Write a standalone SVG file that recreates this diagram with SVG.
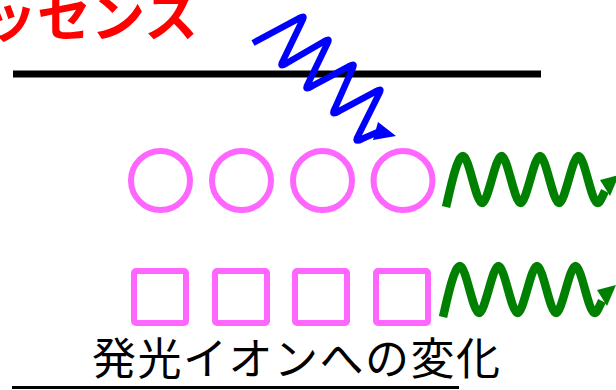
<svg xmlns="http://www.w3.org/2000/svg" width="616" height="390" viewBox="0 0 616 390">
  <defs>
    <style>
      .ion { fill: none; stroke: #FF66FF; stroke-width: 6; stroke-linejoin: round; }
      .bar { stroke: #000000; stroke-linecap: butt; }
      .green { fill: none; stroke: #008000; stroke-width: 8.5; stroke-linejoin: round; stroke-linecap: butt; }
      .blue { fill: none; stroke: #0000FF; stroke-width: 6.5; stroke-linejoin: round; stroke-linecap: butt; }
      .title { font-family: "Noto Sans CJK JP", "Noto Sans", sans-serif; font-weight: bold; font-size: 54px; fill: #FF0000; }
      .label { font-family: "Noto Sans CJK JP", "Noto Sans", sans-serif; font-size: 44px; fill: #000000; letter-spacing: 1.5px; }
    </style>
  </defs>

  <g id="title">
    <text class="title" x="198" y="37" text-anchor="end">ッセンス</text>
  </g>

  <g id="surface-line">
    <line class="bar" x1="13" y1="74" x2="541" y2="74" stroke-width="7"/>
  </g>

  <g id="circle-1"><circle class="ion" cx="160.5" cy="180.5" r="29.5"/></g>
  <g id="circle-2"><circle class="ion" cx="241.5" cy="180.5" r="29.5"/></g>
  <g id="circle-3"><circle class="ion" cx="322.5" cy="180.5" r="29.5"/></g>
  <g id="circle-4"><circle class="ion" cx="403" cy="180.5" r="29.5"/></g>

  <g id="square-1"><rect class="ion" x="134" y="271" width="52" height="52" rx="2"/></g>
  <g id="square-2"><rect class="ion" x="215" y="271" width="52" height="52" rx="2"/></g>
  <g id="square-3"><rect class="ion" x="295" y="271" width="52" height="52" rx="2"/></g>
  <g id="square-4"><rect class="ion" x="376" y="271" width="52" height="52" rx="2"/></g>

  <g id="caption">
    <text class="label" x="92" y="375">発光イオンへの変化</text>
    <line class="bar" x1="12" y1="387.5" x2="459" y2="387.5" stroke-width="3"/>
  </g>

  <g id="connectors">
    <g id="blue-excitation">
      <path class="blue" d="M253,43 L298,18.8 Q307,13 301.6,22.2 L283.4,59.8 Q278,69 286.9,63 L323.1,42 Q332,36 326.6,45.2 L308.4,82.8 Q303,92 312,86.2 L348,66.8 Q357,61 351.8,70.3 L335.2,107.7 Q330,117 339,111.2 L375,91.8 Q384,86 378.4,95.1 L358.6,134.9 Q353,144 362.4,138.8 L378,132"/>
      <polygon points="378,122 396,136 373,140" fill="#0000FF"/>
    </g>
    <g id="green-emission-1">
      <path class="green" d="M446,207 C450,190 457,156 463,156 C469,156 476,203 482,203 C488,203 495.5,156 501.5,156 C507.5,156 514.5,203 520.5,203 C526.5,203 534,156 540,156 C546,156 553,203 559,203 C565,203 572.5,156 578.5,156 C584.5,156 591.5,203 597.5,203 C600,203 602,197 605,191"/>
      <polygon points="600,180 619,175 610,196" fill="#008000"/>
    </g>
    <g id="green-emission-2" transform="translate(-3,110)">
      <path class="green" d="M446,207 C450,190 457,156 463,156 C469,156 476,203 482,203 C488,203 495.5,156 501.5,156 C507.5,156 514.5,203 520.5,203 C526.5,203 534,156 540,156 C546,156 553,203 559,203 C565,203 572.5,156 578.5,156 C584.5,156 591.5,203 597.5,203 C600,203 602,197 605,191"/>
      <polygon points="600,180 619,175 610,196" fill="#008000"/>
    </g>
  </g>
</svg>
